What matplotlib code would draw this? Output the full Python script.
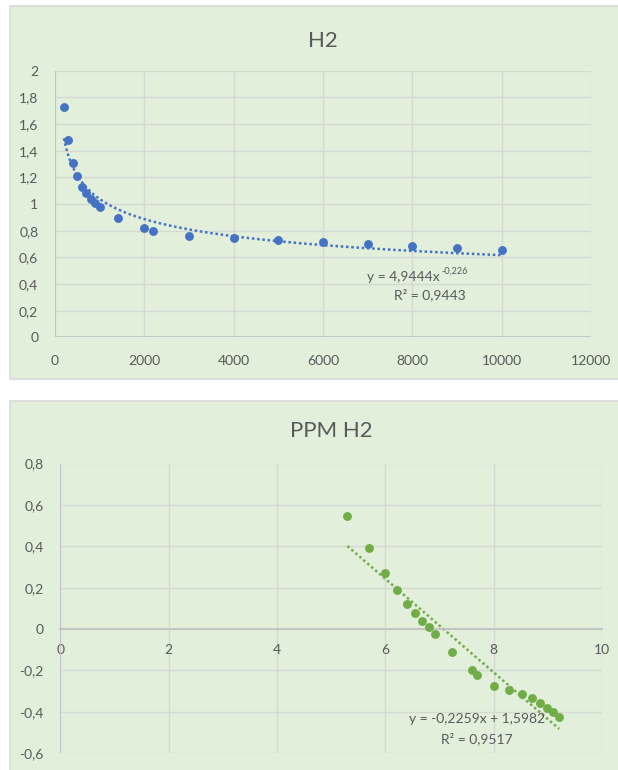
import numpy as np
import matplotlib
matplotlib.use("Agg")
import matplotlib.pyplot as plt
from matplotlib.patches import Rectangle
from matplotlib.ticker import FixedLocator, FuncFormatter

# H2 readings versus concentration
h2_x = [200, 300, 400, 500, 600, 700, 800, 900, 1000, 1400,
        2000, 2200, 3000, 4000, 5000, 6000, 7000, 8000, 9000, 10000]
h2_y = [1.73, 1.48, 1.31, 1.21, 1.13, 1.08, 1.04, 1.01, 0.975, 0.895,
        0.82, 0.80, 0.76, 0.745, 0.73, 0.715, 0.70, 0.685, 0.67, 0.655]

# Natural-log transformed series (PPM H2)
ln_x = [5.30, 5.70, 5.99, 6.21, 6.40, 6.55, 6.68, 6.80, 6.91, 7.24,
        7.60, 7.70, 8.00, 8.29, 8.52, 8.70, 8.85, 8.99, 9.10, 9.21]
ln_y = [0.548, 0.392, 0.272, 0.191, 0.122, 0.077, 0.039, 0.010, -0.025, -0.111,
        -0.198, -0.223, -0.274, -0.294, -0.315, -0.335, -0.357, -0.379, -0.400, -0.423]

# Trendline coefficients
pow_a, pow_b, pow_r2 = 4.9444, -0.226, 0.9443
lin_m, lin_c, lin_r2 = -0.2259, 1.5982, 0.9517

top_xticks = [0, 2000, 4000, 6000, 8000, 10000, 12000]
top_yticks = [0, 0.2, 0.4, 0.6, 0.8, 1.0, 1.2, 1.4, 1.6, 1.8, 2.0]
bot_xticks = [0, 2, 4, 6, 8, 10]
bot_yticks = [-0.6, -0.4, -0.2, 0, 0.2, 0.4, 0.6, 0.8]

PANEL = "#E2EFDA"
EDGE = "#D9D9D9"
GRID = "#D5D9D2"
AXIS = "#BFBFBF"
TEXT = "#595959"
BLUE = "#4472C4"
GREEN = "#70AD47"
DOTS = (0, (1.0, 1.1))

plt.rcParams["font.family"] = ["Lato", "DejaVu Sans"]

W, H = 618, 770
fig = plt.figure(figsize=(W / 100, H / 100), dpi=100)
fig.patch.set_facecolor("white")


def px_rect(x0, y0, x1, y1):
    return [x0 / W, 1 - y1 / H, (x1 - x0) / W, (y1 - y0) / H]


def comma(v, _pos=None):
    if abs(v - round(v)) < 1e-9:
        return f"{int(round(v))}"
    return f"{v:.1f}".replace(".", ",")


# Chart panels
for (x0, y0, x1, y1) in [(9.5, 6, 625, 379), (9.5, 401, 625, 776)]:
    fig.patches.append(Rectangle((x0 / W, 1 - y1 / H), (x1 - x0) / W, (y1 - y0) / H,
                                 transform=fig.transFigure, facecolor=PANEL,
                                 edgecolor=EDGE, linewidth=1.2, zorder=-10))


def style_axes(ax):
    ax.set_facecolor("none")
    for s in ax.spines.values():
        s.set_visible(False)
    ax.grid(True, color=GRID, linewidth=1.0, zorder=0)
    ax.set_axisbelow(True)
    ax.tick_params(length=0, colors=TEXT, labelsize=10)


# ---- H2 ----
ax1 = fig.add_axes(px_rect(55, 70.7, 591, 337.4))
style_axes(ax1)
ax1.set_xlim(0, 12000)
ax1.set_ylim(0, 2)
ax1.xaxis.set_major_locator(FixedLocator(top_xticks))
ax1.yaxis.set_major_locator(FixedLocator(top_yticks))
ax1.yaxis.set_major_formatter(FuncFormatter(comma))
ax1.tick_params(axis="x", pad=13)
ax1.tick_params(axis="y", pad=12)
ax1.axhline(0, color=AXIS, linewidth=1.2, zorder=1)
ax1.axvline(0, color=AXIS, linewidth=1.2, zorder=1)

tx = np.linspace(min(h2_x), max(h2_x), 400)
ax1.plot(tx, pow_a * tx ** pow_b, color=BLUE, linewidth=1.8,
         linestyle=DOTS, dash_capstyle="butt", zorder=2)
ax1.plot(h2_x, h2_y, "o", color=BLUE, markersize=6.4, markeredgewidth=0, zorder=3)
ax1.set_title("H2", fontsize=16, color=TEXT, pad=17)

ax1.annotate(f"y = {pow_a:.4f}x".replace(".", ","), xy=(8600, 0.453),
             ha="right", va="center", color=TEXT, fontsize=10,
             xytext=(0, 0), textcoords="offset points")
ax1.annotate(f"{pow_b:.3f}".replace(".", ","), xy=(8600, 0.453),
             ha="left", va="center", color=TEXT, fontsize=6.5,
             xytext=(1.5, 4), textcoords="offset points")
ax1.text(8400, 0.318, f"R² = {pow_r2:.4f}".replace(".", ","),
         ha="center", va="center", color=TEXT, fontsize=10)

# ---- PPM H2 ----
ax2 = fig.add_axes(px_rect(60.3, 463.5, 602, 753.3))
style_axes(ax2)
ax2.set_xlim(0, 10)
ax2.set_ylim(-0.6, 0.8)
ax2.xaxis.set_major_locator(FixedLocator(bot_xticks))
ax2.yaxis.set_major_locator(FixedLocator(bot_yticks))
ax2.yaxis.set_major_formatter(FuncFormatter(comma))
ax2.xaxis.set_major_formatter(FuncFormatter(comma))
ax2.spines["bottom"].set_visible(True)
ax2.spines["bottom"].set_position(("data", 0))
ax2.spines["bottom"].set_color(AXIS)
ax2.spines["bottom"].set_linewidth(1.2)
ax2.tick_params(axis="x", pad=11)
ax2.tick_params(axis="y", pad=12)
ax2.axvline(0, color=AXIS, linewidth=1.2, zorder=1)

lx = np.array([min(ln_x), max(ln_x)])
ax2.plot(lx, lin_m * lx + lin_c, color=GREEN, linewidth=1.8,
         linestyle=DOTS, dash_capstyle="butt", zorder=2)
ax2.plot(ln_x, ln_y, "o", color=GREEN, markersize=6.4, markeredgewidth=0, zorder=3)
ax2.set_title("PPM H2", fontsize=16, color=TEXT, pad=19)

ax2.text(7.69, -0.435, f"y = {lin_m:.4f}x + {lin_c:.4f}".replace(".", ","),
         ha="center", va="center", color=TEXT, fontsize=10)
ax2.text(7.69, -0.531, f"R² = {lin_r2:.4f}".replace(".", ","),
         ha="center", va="center", color=TEXT, fontsize=10)

fig.savefig("out.png", dpi=100, facecolor=fig.get_facecolor())
